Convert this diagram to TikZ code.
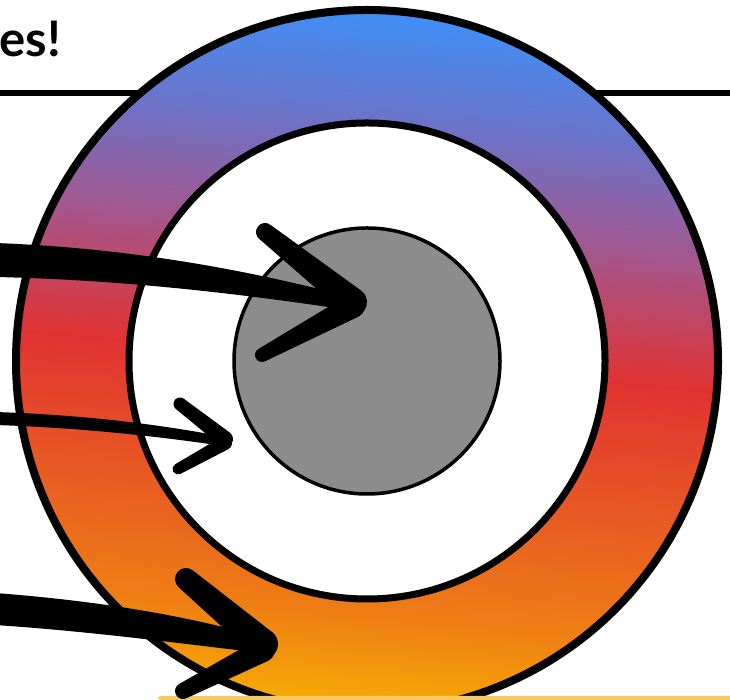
\documentclass[tikz,border=0pt]{standalone}
\usepackage{fontspec}
\newfontfamily\latofont{Lato}
\usetikzlibrary{calc}
\definecolor{gBlue}{RGB}{62,143,247}
\definecolor{gPur}{RGB}{108,115,200}
\definecolor{gMag}{RGB}{165,86,140}
\definecolor{gRed}{RGB}{225,50,50}
\definecolor{gOrA}{RGB}{232,92,35}
\definecolor{gOrB}{RGB}{238,126,20}
\definecolor{gYel}{RGB}{247,172,4}
\definecolor{discgray}{RGB}{140,140,140}
\definecolor{stripcol}{RGB}{248,200,100}
\pgfdeclareverticalshading{ringgrad}{100bp}{color(0bp)=(gYel); color(25bp)=(gYel); color(32bp)=(gOrB); color(40bp)=(gOrA); color(50bp)=(gRed); color(59bp)=(gMag); color(67bp)=(gPur); color(75bp)=(gBlue); color(100bp)=(gBlue)}
\newcommand\brushstroke[4]{%
  \fill let \p1=#1, \p2=#2, \n1={atan2(\y2-\y1,\x2-\x1)} in
    ($(\p1)+(\n1+90:#3pt)$) -- ($(\p2)+(\n1+90:#4pt)$)
    arc[start angle=\n1+90, end angle=\n1-90, radius=#4pt]
    -- ($(\p1)+(\n1-90:#3pt)$)
    arc[start angle=\n1-90, end angle=\n1-270, radius=#3pt] -- cycle;}
\begin{document}
\begin{tikzpicture}[x=1pt,y=1pt,
  rule/.style={line width=6pt},
  ringborder/.style={line width=8pt},
  innerborder/.style={line width=7pt},
  ink/.style={fill=black}]
\useasboundingbox (0,0) rectangle (730,700);
\clip (0,0) rectangle (730,700);
\coordinate (c) at (367,339);
% heading text and rule
\node[anchor=base east, inner sep=0pt, font=\latofont\bfseries\fontsize{49}{56}\selectfont] (title) at (61,643) {es!};
\coordinate (ruleL) at (0,607);
\coordinate (ruleR) at (730,607);
\draw[rule] (ruleL) -- (ruleR);
% rings
\shade[shading=ringgrad, shading angle=-5] (c) circle[radius=351pt];
\draw[ringborder] (c) circle[radius=351pt];
\fill[white] (c) circle[radius=238pt];
\draw[innerborder] (c) circle[radius=238pt];
\fill[discgray] (c) circle[radius=133pt];
\draw[line width=3.5pt] (c) circle[radius=133pt];
% bottom strip
\fill[stripcol, rounded corners=3pt] (158,0) rectangle (740,4);
% arrow 1
\fill[ink] (-5,457) .. controls (130,452) and (250,430) .. (362,400) -- (362,388) .. controls (250,405) and (130,420) .. (-5,423) -- cycle;
\coordinate (a1u) at (265,468);
\coordinate (a1t) at (353,398);
\coordinate (a1tt) at (353,394);
\coordinate (a1l) at (262,345);
\brushstroke{(a1u)}{(a1t)}{9}{14}
\brushstroke{(a1l)}{(a1tt)}{7}{12}
% arrow 2
\fill[ink] (-5,288) .. controls (90,285) and (170,274) .. (230,262) -- (230,253) .. controls (170,262) and (90,272) .. (-5,275) -- cycle;
\coordinate (a2u) at (180,296);
\coordinate (a2t) at (225,261);
\coordinate (a2tt) at (225,257);
\coordinate (a2l) at (178,231);
\brushstroke{(a2u)}{(a2t)}{6.5}{8}
\brushstroke{(a2l)}{(a2tt)}{5.5}{7}
% arrow 3
\fill[ink] (-5,107) .. controls (100,99) and (190,84) .. (272,60) -- (272,46) .. controls (190,55) and (100,68) .. (-5,75) -- cycle;
\coordinate (a3u) at (186,121);
\coordinate (a3t) at (263,56);
\coordinate (a3tt) at (263,50);
\coordinate (a3l) at (183,9);
\brushstroke{(a3u)}{(a3t)}{11}{15}
\brushstroke{(a3l)}{(a3tt)}{8}{12}
\end{tikzpicture}
\end{document}
